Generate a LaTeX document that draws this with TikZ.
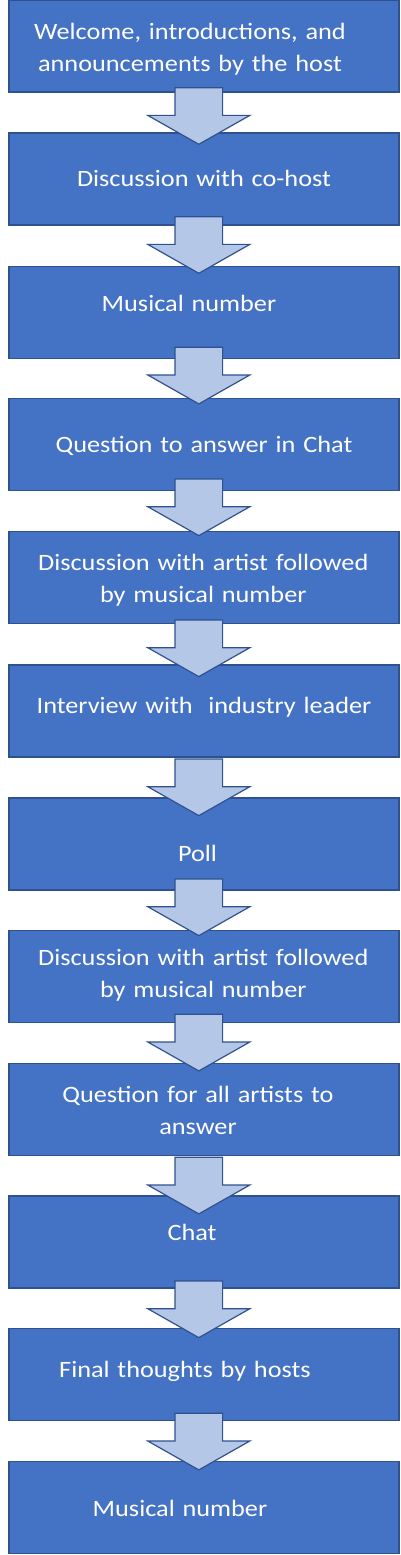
\documentclass[tikz,border=0pt]{standalone}
\usepackage{fontspec}
\setmainfont{Carlito}[FakeStretch=1.12]
\definecolor{boxblue}{HTML}{4472C4}
\definecolor{edgeblue}{HTML}{2F528F}
\definecolor{arrowblue}{HTML}{B4C7E7}
\begin{document}
\begin{tikzpicture}[x=0.75pt, y=-0.75pt,
  stepbox/.style={draw=edgeblue, fill=boxblue, line width=0.9pt,
    minimum width=292.5pt, minimum height=69pt, inner sep=0pt},
  steptext/.style={text=white, font=\fontsize{17.6}{24}\selectfont,
    text width=285pt, align=center, anchor=base, inner sep=0pt},
  flowarrow/.pic={\draw[draw=edgeblue, fill=arrowblue, line width=0.9pt]
    (-23.8,0) -- (23.8,0) -- (23.8,27.7) -- (51,27.7) -- (0,56.6)
    -- (-51,27.7) -- (-23.8,27.7) -- cycle;}]
  \useasboundingbox (0,0) rectangle (400,1555);

  % boxes
  \node[stepbox] (welcome)   at (204,46)     {};
  \node[stepbox] (cohost)    at (204,179)    {};
  \node[stepbox] (music1)    at (204,312.7)  {};
  \node[stepbox] (chatq)     at (204,444.3)  {};
  \node[stepbox] (artist1)   at (204,577.7)  {};
  \node[stepbox] (interview) at (204,711)    {};
  \node[stepbox] (poll)      at (204,844)    {};
  \node[stepbox] (artist2)   at (204,976.7)  {};
  \node[stepbox] (allq)      at (204,1109.3) {};
  \node[stepbox] (chat)      at (204,1242)   {};
  \node[stepbox] (final)     at (204,1374.3) {};
  \node[stepbox] (music2)    at (204,1507.7) {};

  % texts
  \node[steptext] (welcomeT)   at (190,39.5)    {Welcome, introductions, and\\announcements by the host};
  \node[steptext] (cohostT)    at (204,186.7)   {Discussion with co-host};
  \node[steptext] (music1T)    at (189,311.7)   {Musical number};
  \node[steptext] (chatqT)     at (204,452.7)   {Question to answer in Chat};
  \node[steptext] (artist1T)   at (203.3,570)   {Discussion with artist followed\\by musical number};
  \node[steptext] (interviewT) at (204,713.3)   {Interview with\ \ industry leader};
  \node[steptext] (pollT)      at (197.5,861)   {Poll};
  \node[steptext] (artist2T)   at (203.3,965)   {Discussion with artist followed\\by musical number};
  \node[steptext] (allqT)      at (198,1102.7)  {Question for all artists to\\answer};
  \node[steptext] (chatT)      at (192,1240)    {Chat};
  \node[steptext] (finalT)     at (185,1377.3)  {Final thoughts by hosts};
  \node[steptext] (music2T)    at (180,1516)    {Musical number};

  % arrows
  \path (198.8,87.7)   coordinate (arr1)  pic {flowarrow};
  \path (198.8,216.7)  coordinate (arr2)  pic {flowarrow};
  \path (198.8,347.3)  coordinate (arr3)  pic {flowarrow};
  \path (198.8,479)    coordinate (arr4)  pic {flowarrow};
  \path (198.8,620)    coordinate (arr5)  pic {flowarrow};
  \path (198.8,759)    coordinate (arr6)  pic {flowarrow};
  \path (198.8,879)    coordinate (arr7)  pic {flowarrow};
  \path (198.8,1014.3) coordinate (arr8)  pic {flowarrow};
  \path (198.8,1157.3) coordinate (arr9)  pic {flowarrow};
  \path (198.8,1281)   coordinate (arr10) pic {flowarrow};
  \path (198.8,1413.3) coordinate (arr11) pic {flowarrow};
\end{tikzpicture}
\end{document}
